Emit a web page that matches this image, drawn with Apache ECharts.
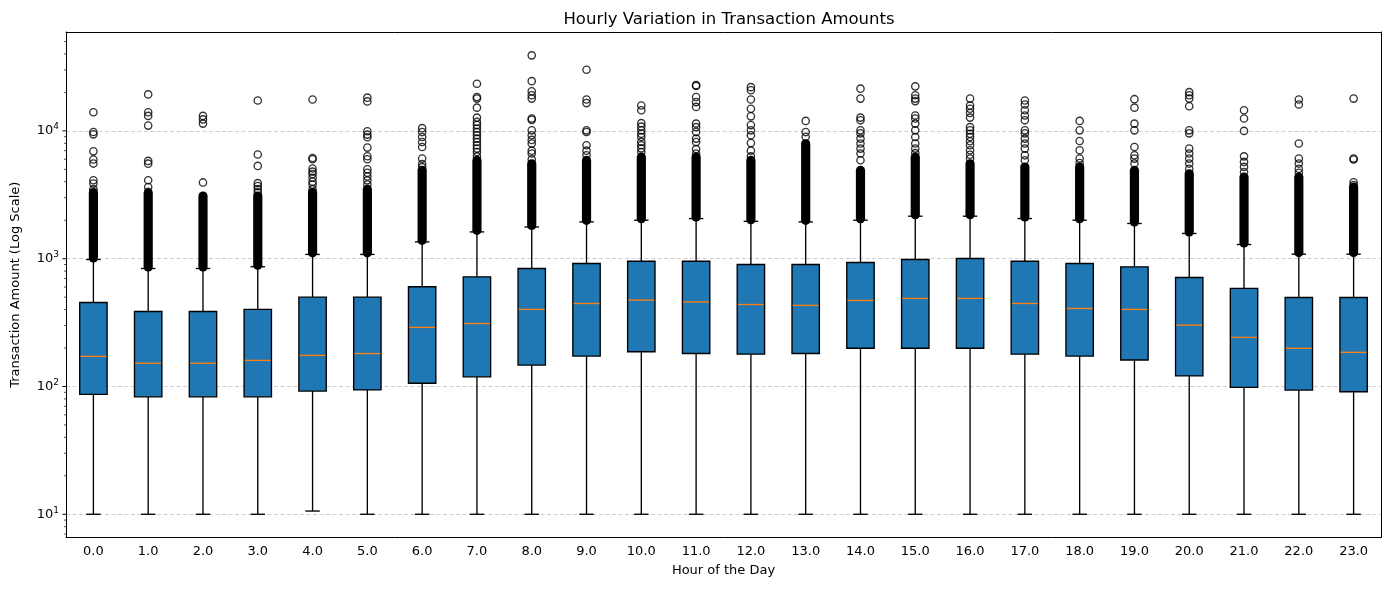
<!DOCTYPE html>
<html><head><meta charset="utf-8">
<script src="https://cdn.jsdelivr.net/npm/echarts@6/dist/echarts.min.js"></script>
<style>html,body{margin:0;padding:0;background:#fff}#c{width:1389px;height:590px}</style>
</head><body><div id="c"></div>
<script>
// ---- data ----
const hours = ['0.0','1.0','2.0','3.0','4.0','5.0','6.0','7.0','8.0','9.0','10.0','11.0',
               '12.0','13.0','14.0','15.0','16.0','17.0','18.0','19.0','20.0','21.0','22.0','23.0'];
const whiskerLow  = [10,10,10,10,10.6,10,10,10,10,10,10,10,10,10,10,10,10,10,10,10,10,10,10,10];
const q1          = [86.8,83,83,83,92,94,106,119,147,173,187,181,179,181,199,199,199,179,173,161,121,98.5,93.7,91];
const median      = [172,152,152,160,175,181,290,311,401,446,474,459,438,431,471,489,489,446,408,401,302,242,199,185];
const q3          = [454,386,386,401,500,500,603,721,838,917,955,955,901,901,934,985,1004,955,917,863,713,585,497,497];
const whiskerHigh = [985,838,838,865,1080,1080,1353,1620,1770,1940,2000,2060,1960,1940,2000,2150,2150,2060,2000,1885,1575,1291,1085,1085];
// upper end of the solid band of overlapping outlier markers
const denseTop    = [3300,3250,3100,3100,3300,3500,4920,5890,5550,5890,6250,6250,5890,7960,4920,6250,5550,5230,5230,4920,4630,4360,4360,3640];
// individually visible outliers per hour
const outliers = [
  [3500,3870,4110,5550,5970,6920,9400,9800,14000],
  [3330,3640,4110,5540,5820,11000,13100,14000,19300],
  [3950,11400,12300,13100],
  [3300,3500,3700,3900,5320,6530,17300],
  [3500,3800,4000,4300,4600,4800,5080,6000,6140,17600],
  [3800,4100,4400,4700,5010,6000,6330,7400,8910,9350,9930,17000,18200],
  [5200,5500,6070,7480,8180,8950,9790,10500],
  [6320,6840,7270,7720,8180,8700,9250,9790,10430,11100,11750,12700,15200,17900,18400,23400],
  [6000,6650,7000,7960,8500,9250,10100,12200,12500,17900,19000,20400,24500,39000],
  [6440,7000,7720,9800,10100,16500,17600,30100],
  [6840,7300,7720,8200,8950,9500,10100,10800,11500,14500,15800],
  [6650,7200,8180,8700,9790,10700,11400,15400,16800,18400,22500,22800],
  [6320,7000,8040,9250,10100,11100,13000,14900,17600,20800,22000],
  [9000,9790,11970],
  [5890,6650,7270,7960,8700,9570,10100,12100,12700,17900,21400],
  [6700,7270,7960,8950,10100,11400,12500,13200,17100,17900,19000,22300],
  [6070,6500,7050,7720,8300,8950,9500,10100,10700,12700,13800,14900,15800,17900],
  [5890,6440,7270,7960,8700,9570,10100,12100,13200,14500,16100,17300],
  [5600,6070,7050,8340,10100,11970],
  [5550,6070,6440,7480,10100,11400,15200,17700],
  [5050,5550,6070,6650,7270,9570,10100,15600,17900,19000,20100],
  [4760,5230,5720,6320,10000,12500,14500],
  [4700,5050,5550,6070,7960,16100,17600],
  [3770,3960,5970,6070,17900]
];
const yMin = 6.58, yMax = 59400;
const majorTicks = [10,100,1000,10000];
const minorTicks = [7,8,9,20,30,40,50,60,70,80,90,200,300,400,500,600,700,800,900,
                    2000,3000,4000,5000,6000,7000,8000,9000,20000,30000,40000,50000];

// ---- build series data ----
const boxData = hours.map((h,i)=>[i, whiskerLow[i], q1[i], median[i], q3[i], whiskerHigh[i]]);
const denseData = hours.map((h,i)=>[i, whiskerHigh[i], denseTop[i]]);
const outlierData = [];
outliers.forEach((arr,i)=>arr.forEach(v=>outlierData.push([i, v])));
const majorData = majorTicks.map(v=>[0, v]);
const minorData = minorTicks.map(v=>[0, v]);

const FONT = 'DejaVu Sans';
const LW = 1.35;

function bandWidth(api, v){ return api.coord([1, v])[0] - api.coord([0, v])[0]; }

function renderBox(params, api){
  const i = api.value(0);
  const pLo = api.coord([i, api.value(1)]);
  const pQ1 = api.coord([i, api.value(2)]);
  const pMd = api.coord([i, api.value(3)]);
  const pQ3 = api.coord([i, api.value(4)]);
  const pHi = api.coord([i, api.value(5)]);
  const x = pLo[0];
  const band = bandWidth(api, api.value(2));
  const hw = band*0.25, cw = band*0.132;
  const st = {stroke:'#000', lineWidth:LW};
  return {type:'group', children:[
    {type:'line', shape:{x1:x,y1:pLo[1],x2:x,y2:pQ1[1]}, style:st},
    {type:'line', shape:{x1:x,y1:pQ3[1],x2:x,y2:pHi[1]}, style:st},
    {type:'line', shape:{x1:x-cw,y1:pLo[1],x2:x+cw,y2:pLo[1]}, style:st},
    {type:'line', shape:{x1:x-cw,y1:pHi[1],x2:x+cw,y2:pHi[1]}, style:st},
    {type:'rect', shape:{x:x-hw,y:pQ3[1],width:2*hw,height:pQ1[1]-pQ3[1]},
      style:{fill:'#1f77b4',stroke:'#000',lineWidth:LW}},
    {type:'line', shape:{x1:x-hw+0.7,y1:pMd[1],x2:x+hw-0.7,y2:pMd[1]}, style:{stroke:'#ff7f0e',lineWidth:LW}}
  ]};
}
function renderDense(params, api){
  const i = api.value(0);
  const pHi = api.coord([i, api.value(1)]);
  const pTop = api.coord([i, api.value(2)]);
  const x = pHi[0];
  const y0 = pTop[1]-4.4, y1 = pHi[1]+3;
  return {type:'rect', shape:{x:x-4.6, y:y0, width:9.2, height:y1-y0, r:4.5},
          style:{fill:'#000'}};
}
function makeTickRenderer(len, w){
  return function(params, api){
    const v = api.value(1);
    const p = api.coord([0, v]);
    const left = p[0] - bandWidth(api, v)/2;
    return {type:'line', shape:{x1:left-len,y1:p[1],x2:left,y2:p[1]}, style:{stroke:'#000',lineWidth:w}};
  };
}

const chart = echarts.init(document.getElementById('c'), null, {renderer:'canvas'});
chart.setOption({
  animation:false,
  backgroundColor:'#fff',
  title:{text:'Hourly Variation in Transaction Amounts', left:724, top:6, textAlign:'center',
    textStyle:{fontFamily:FONT, fontSize:16.5, fontWeight:'normal', color:'#000'}},
  grid:{left:66, right:8, top:32, bottom:52.5, show:false},
  xAxis:[{type:'category', data:hours, boundaryGap:true,
    name:'Hour of the Day', nameLocation:'middle', nameGap:27,
    nameTextStyle:{fontFamily:FONT, fontSize:13, color:'#000'},
    axisLine:{lineStyle:{color:'#000', width:1}},
    axisTick:{alignWithLabel:true, length:4, lineStyle:{color:'#000'}},
    axisLabel:{fontFamily:FONT, fontSize:13, color:'#000', margin:8, interval:0},
    splitLine:{show:false}, z:5},
   {type:'category', data:hours, position:'top', boundaryGap:true,
    axisLine:{show:true, lineStyle:{color:'#000', width:1}},
    axisTick:{show:false}, axisLabel:{show:false}, splitLine:{show:false}, z:5}],
  yAxis:[{type:'log', logBase:10, min:yMin, max:yMax,
    name:'Transaction Amount (Log Scale)', nameLocation:'middle', nameGap:44,
    nameTextStyle:{fontFamily:FONT, fontSize:13, color:'#000'},
    axisLine:{show:true, lineStyle:{color:'#000'}},
    axisTick:{show:false},
    splitLine:{show:true, lineStyle:{color:'#c8c8c8', type:[4,2.5], width:0.9}},
    axisLabel:{margin:7, color:'#000', showMinLabel:false, showMaxLabel:false,
      formatter:function(v){
        const e = Math.round(Math.log10(v));
        if (Math.abs(Math.log10(v)-e) > 1e-6 || majorTicks.indexOf(Math.pow(10,e)) < 0) return '';
        return '{b|10}{s|' + e + '}';
      },
      rich:{b:{fontFamily:FONT, fontSize:13, color:'#000'},
            s:{fontFamily:FONT, fontSize:9, color:'#000', padding:[0,0,8,0]}}}},
   {type:'log', logBase:10, min:yMin, max:yMax, position:'right',
    axisLine:{show:true, lineStyle:{color:'#000'}},
    axisTick:{show:false}, axisLabel:{show:false}, splitLine:{show:false}}],
  series:[
    {type:'custom', name:'dense', data:denseData, renderItem:renderDense, encode:{x:0,y:[1,2]}, z:3, silent:true},
    {type:'scatter', name:'outliers', data:outlierData, symbol:'circle', symbolSize:7.3, z:4, silent:true,
      itemStyle:{color:'rgba(0,0,0,0)', borderColor:'#000', borderWidth:LW}},
    {type:'custom', name:'box', data:boxData, renderItem:renderBox, encode:{x:0,y:[1,2,3,4,5]}, z:5, silent:true},
    {type:'custom', name:'majorTicks', data:majorData, renderItem:makeTickRenderer(3.5,1), encode:{x:0,y:1}, z:6, silent:true, clip:false},
    {type:'custom', name:'minorTicks', data:minorData, renderItem:makeTickRenderer(2,0.7), encode:{x:0,y:1}, z:6, silent:true, clip:false}
  ]
});
</script></body></html>
